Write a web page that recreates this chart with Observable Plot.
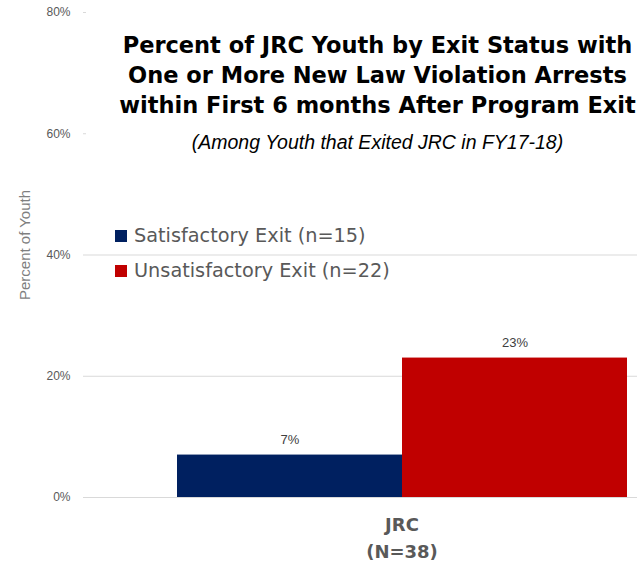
<!DOCTYPE html>
<html>
<head>
<meta charset="utf-8">
<script src="https://cdn.jsdelivr.net/npm/d3@7"></script>
<script src="https://cdn.jsdelivr.net/npm/@observablehq/plot@0.6"></script>
<style>
  html, body { margin: 0; padding: 0; background: #fff; }
  #wrap { position: relative; width: 637px; height: 569px; overflow: hidden; font-family: "DejaVu Sans", sans-serif; }
  #chart svg { max-width: none !important; display: block; }
  #title { position: absolute; left: 86px; top: 0; width: 583px; height: 160px; background: #fff; text-align: center; }
  #title .t { position: absolute; left: 0; width: 100%; top: 30px; font-weight: bold; font-size: 22.5px; line-height: 30px; color: #000; }
  #title .s { position: absolute; left: 0; width: 100%; top: 131px; font-family: "Liberation Sans", Arial, sans-serif; font-style: italic; font-size: 19.5px; color: #000; }
  #legend { position: absolute; left: 115px; top: 224px; font-size: 19.3px; color: #595959; }
  #legend .item { height: 35px; line-height: 24px; white-space: nowrap; }
  #legend .sw { display: inline-block; width: 12px; height: 12px; margin-right: 7px; vertical-align: 0px; }
</style>
</head>
<body>
<div id="wrap">
  <div id="chart"></div>
  <div id="title">
    <div class="t">Percent of JRC Youth by Exit Status with<br>One or More New Law Violation Arrests<br>within First 6 months After Program Exit</div>
    <div class="s">(Among Youth that Exited JRC in FY17-18)</div>
  </div>
  <div id="legend"></div>
</div>
<script>
const categories = ["JRC\n(N=38)"];
const series = ["Satisfactory Exit (n=15)", "Unsatisfactory Exit (n=22)"];
const values = [0.07, 0.23];
const colors = ["#002060", "#C00000"];
const yTicks = [0, 0.2, 0.4, 0.6, 0.8];
const yLabel = "Percent of Youth";

const data = series.map((s, i) => ({category: categories[0], series: s, value: values[i]}));
const pct = d3.format(".0%");

const chart = Plot.plot({
  width: 730,
  height: 569,
  marginLeft: 83,
  marginRight: 10,
  marginTop: 12,
  marginBottom: 72,
  style: {background: "#fff", fontFamily: "Liberation Sans, Arial, sans-serif", maxWidth: "none"},
  x: {domain: series, paddingInner: 0, paddingOuter: 0.413, axis: null},
  y: {domain: [0, 0.8], ticks: yTicks, tickFormat: pct, label: null},
  color: {domain: series, range: colors},
  marks: [
    Plot.gridY(yTicks, {stroke: "#d9d9d9", strokeOpacity: 1, strokeWidth: 1}),
    Plot.axisY(yTicks, {tickSize: 0, tickPadding: 13, tickFormat: pct, fontSize: 12, fill: "#595959", label: null}),
    Plot.barY(data, {x: "series", y: "value", fill: "series"}),
    Plot.text(data, {x: "series", y: "value", text: d => pct(d.value), dy: -15, fontSize: 13, fill: "#404040"}),
    Plot.text(categories, {text: d => d, frameAnchor: "bottom", dy: 14, lineAnchor: "top", lineHeight: 1.5, fontSize: 18, fontWeight: "bold", fill: "#595959", fontFamily: "DejaVu Sans, sans-serif"}),
    Plot.text([yLabel], {text: d => d, frameAnchor: "left", textAnchor: "middle", dx: -58, dy: -10, rotate: -90, fontSize: 15, fill: "#7f7f7f"})
  ]
});
document.getElementById("chart").appendChild(chart);

const legend = document.getElementById("legend");
series.forEach((s, i) => {
  const item = document.createElement("div");
  item.className = "item";
  item.innerHTML = `<span class="sw" style="background:${colors[i]}"></span>${s}`;
  legend.appendChild(item);
});
</script>
</body>
</html>
